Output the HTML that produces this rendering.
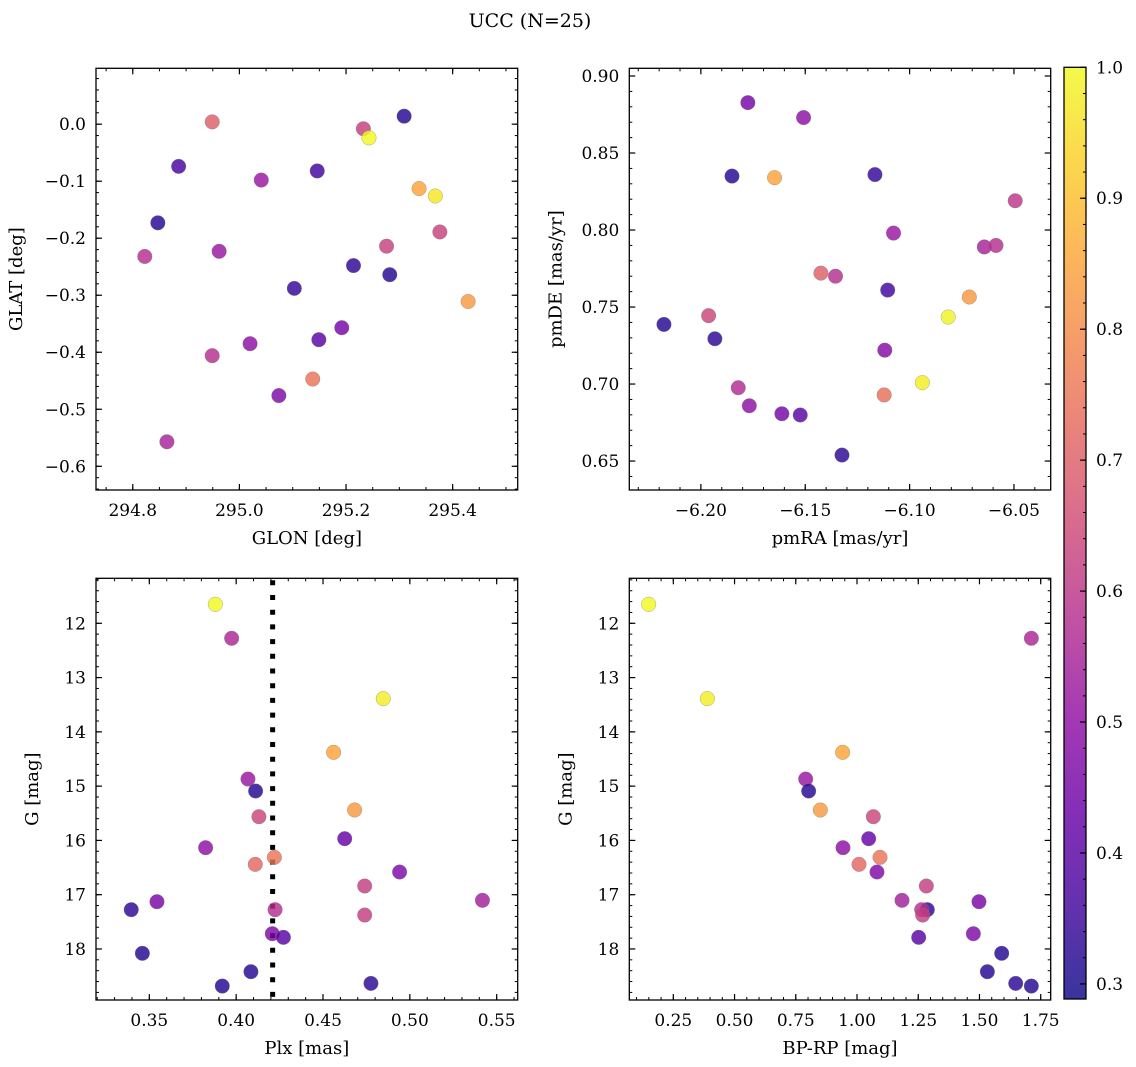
<!DOCTYPE html>
<html><head><meta charset="utf-8"><style>
html,body{margin:0;padding:0;background:#fff;}
svg{display:block;font-family:"DejaVu Serif","Liberation Serif",serif;}
</style></head><body>
<svg id="fig" width="1136" height="1067" viewBox="0 0 1136 1067" xmlns="http://www.w3.org/2000/svg">
<text x="530" y="27" font-size="19" text-anchor="middle">UCC (N=25)</text>
</svg>
<script>
// ---- data ----
const glon = [294.949,295.2325,295.243,295.309,294.886,295.041,295.146,295.337,295.3675,294.847,295.376,294.8225,294.962,295.276,295.214,295.282,295.103,295.429,295.192,295.02,295.149,294.949,295.1375,295.074,294.864];
const glat = [0.004,-0.008,-0.024,0.014,-0.074,-0.098,-0.082,-0.113,-0.126,-0.173,-0.189,-0.232,-0.223,-0.214,-0.248,-0.264,-0.288,-0.311,-0.357,-0.385,-0.378,-0.406,-0.447,-0.476,-0.557];
const probSky = [0.70,0.62,1.0,0.32,0.37,0.52,0.36,0.85,0.97,0.32,0.63,0.58,0.52,0.63,0.33,0.32,0.34,0.83,0.45,0.50,0.40,0.58,0.75,0.47,0.55];
const pmra = [-6.1775,-6.1508,-6.1851,-6.1647,-6.1166,-6.0494,-6.1077,-6.0642,-6.0586,-6.1425,-6.1355,-6.1105,-6.0714,-6.0815,-6.2177,-6.1963,-6.1933,-6.1119,-6.0939,-6.1821,-6.1122,-6.1768,-6.1612,-6.1524,-6.1324];
const pmde = [0.8827,0.873,0.835,0.834,0.836,0.819,0.798,0.789,0.790,0.772,0.770,0.761,0.7565,0.7435,0.7387,0.7444,0.7294,0.722,0.7009,0.6976,0.6929,0.6859,0.6807,0.6799,0.6539];
const probPm = [0.45,0.50,0.32,0.85,0.34,0.60,0.52,0.55,0.58,0.70,0.58,0.36,0.83,0.99,0.32,0.64,0.33,0.48,0.98,0.57,0.74,0.50,0.45,0.40,0.33];
const plx = [0.388,0.3974,0.4847,0.4561,0.4068,0.4112,0.4682,0.4131,0.4625,0.3824,0.422,0.411,0.4941,0.474,0.3544,0.5418,0.3396,0.4224,0.474,0.4208,0.4272,0.346,0.4085,0.4776,0.392];
const gmag = [11.65,12.276,13.388,14.377,14.869,15.09,15.44,15.563,15.968,16.134,16.312,16.441,16.582,16.84,17.129,17.104,17.276,17.276,17.375,17.719,17.786,18.08,18.419,18.634,18.683];
const bprp = [0.1493,1.7118,0.3888,0.9414,0.7904,0.8026,0.8502,1.0667,1.0476,0.9428,1.0939,1.0081,1.0816,1.283,1.498,1.1837,1.287,1.264,1.268,1.475,1.2518,1.5907,1.5322,1.6479,1.7118];
const probPhot = [1.0,0.56,0.98,0.85,0.52,0.32,0.83,0.64,0.42,0.50,0.75,0.72,0.47,0.62,0.46,0.54,0.33,0.58,0.62,0.47,0.40,0.32,0.32,0.33,0.32];
const plxMedian = 0.421;
const cbTicks = [0.3,0.4,0.5,0.6,0.7,0.8,0.9,1.0];
const vmin = 0.2885, vmax = 1.0;

const NS = "http://www.w3.org/2000/svg";
const svg = document.getElementById('fig');
function mk(tag, attrs, parent){const e=document.createElementNS(NS,tag);for(const k in attrs)e.setAttribute(k,attrs[k]);(parent||svg).appendChild(e);return e;}

const plasma=[[13,8,135],[65,4,157],[106,0,168],[143,13,164],[177,42,144],[204,71,120],[225,100,98],[242,132,75],[252,166,54],[252,206,37],[240,249,33]];
function cmap(v){let t=(v-vmin)/(vmax-vmin);t=Math.max(0,Math.min(1,t));const f=t*10;const i=Math.min(9,Math.floor(f));const r=f-i;const a=plasma[i],b=plasma[i+1];
 return 'rgb('+[0,1,2].map(k=>Math.round(a[k]+(b[k]-a[k])*r)).join(',')+')';}
function fmt(v,d){const s=Math.abs(v).toFixed(d);return (v<-1e-9?'\u2212':'')+s;}

function panel(p){
  const g=mk('g',{});
  
  
  const sx=v=>p.x0+(v-p.xd[0])/(p.xd[1]-p.xd[0])*(p.x1-p.x0);
  const sy=p.yinv? v=>p.y0+(v-p.yd[0])/(p.yd[1]-p.yd[0])*(p.y1-p.y0) : v=>p.y1-(v-p.yd[0])/(p.yd[1]-p.yd[0])*(p.y1-p.y0);
  function ticks(lo,hi,step){const out=[];const s=Math.ceil(lo/step-1e-6);for(let k=s;k*step<=hi+1e-9;k++)out.push(+(k*step).toFixed(6));return out;}
  const xlo=Math.min(...p.xd),xhi=Math.max(...p.xd),ylo=Math.min(...p.yd),yhi=Math.max(...p.yd);
  ticks(xlo,xhi,p.xminor).forEach(v=>{const x=sx(v);mk('line',{x1:x,x2:x,y1:p.y1,y2:p.y1-3,stroke:'#000','stroke-width':1},g);mk('line',{x1:x,x2:x,y1:p.y0,y2:p.y0+3,stroke:'#000','stroke-width':1},g);});
  ticks(ylo,yhi,p.yminor).forEach(v=>{const y=sy(v);mk('line',{x1:p.x0,x2:p.x0+3,y1:y,y2:y,stroke:'#000','stroke-width':1},g);mk('line',{x1:p.x1,x2:p.x1-3,y1:y,y2:y,stroke:'#000','stroke-width':1},g);});
  ticks(xlo,xhi,p.xmajor).forEach(v=>{const x=sx(v);mk('line',{x1:x,x2:x,y1:p.y1,y2:p.y1-6,stroke:'#000','stroke-width':1.2},g);mk('line',{x1:x,x2:x,y1:p.y0,y2:p.y0+6,stroke:'#000','stroke-width':1.2},g);
    const t=mk('text',{x:x,y:p.y1+26,'font-size':17,'text-anchor':'middle'},g);t.textContent=fmt(v,p.xdec);
    
    });
  ticks(ylo,yhi,p.ymajor).forEach(v=>{const y=sy(v);mk('line',{x1:p.x0,x2:p.x0+6,y1:y,y2:y,stroke:'#000','stroke-width':1.2},g);mk('line',{x1:p.x1,x2:p.x1-6,y1:y,y2:y,stroke:'#000','stroke-width':1.2},g);
    const t=mk('text',{x:p.x0-10,y:y+6,'font-size':17,'text-anchor':'end'},g);t.textContent=fmt(v,p.ydec);
    
    });
  if(p.vline!==undefined){const x=sx(p.vline);const l=mk('line',{x1:x,x2:x,y1:p.y0+2,y2:p.y1,stroke:'#000','stroke-width':5,'stroke-dasharray':'5,9.7'},g);
    
    }
  for(let i=0;i<p.xs.length;i++){
    const c=mk('circle',{cx:sx(p.xs[i]),cy:sy(p.ys[i]),r:7.3,fill:cmap(p.cs[i]),'fill-opacity':0.82,stroke:'#777','stroke-opacity':0.6,'stroke-width':0.5},g);
    
    
  }
  const fr=mk('rect',{x:p.x0,y:p.y0,width:p.x1-p.x0,height:p.y1-p.y0,fill:'none',stroke:'#000','stroke-width':1.3},g);
  
  
  const xl=mk('text',{x:(p.x0+p.x1)/2,y:p.y1+54,'font-size':18,'text-anchor':'middle'},g);xl.textContent=p.xlabel;
  
  
  const yx=p.x0-p.ylabOff, yy=(p.y0+p.y1)/2;
  const yl=mk('text',{x:yx,y:yy,'font-size':18,'text-anchor':'middle',transform:'rotate(-90 '+yx+' '+yy+')'},g);yl.textContent=p.ylabel;
  
  
}

panel({name:'sky-position-panel',x0:96,x1:517.7,y0:68.3,y1:490,xd:[294.731,295.522],yd:[-0.6416,0.098],xmajor:0.2,xminor:0.05,ymajor:0.1,yminor:0.02,xdec:1,ydec:1,xs:glon,ys:glat,cs:probSky,xlabel:'GLON [deg]',ylabel:'GLAT [deg]',ylabOff:74});
panel({name:'proper-motion-panel',x0:629.3,x1:1050.7,y0:68.3,y1:490,xd:[-6.2343,-6.0324],yd:[0.6312,0.905],xmajor:0.05,xminor:0.01,ymajor:0.05,yminor:0.01,xdec:2,ydec:2,xs:pmra,ys:pmde,cs:probPm,xlabel:'pmRA [mas/yr]',ylabel:'pmDE [mas/yr]',ylabOff:68});
panel({name:'parallax-mag-panel',x0:96,x1:517.7,y0:578.3,y1:1000,xd:[0.3193,0.5621],yd:[11.171,18.94],yinv:true,xmajor:0.05,xminor:0.01,ymajor:1,yminor:0.2,xdec:2,ydec:0,xs:plx,ys:gmag,cs:probPhot,vline:plxMedian,xlabel:'Plx [mas]',ylabel:'G [mag]',ylabOff:58});
panel({name:'cmd-panel',x0:629.3,x1:1050.7,y0:578.3,y1:1000,xd:[0.0703,1.7908],yd:[11.171,18.94],yinv:true,xmajor:0.25,xminor:0.05,ymajor:1,yminor:0.2,xdec:2,ydec:0,xs:bprp,ys:gmag,cs:probPhot,xlabel:'BP-RP [mag]',ylabel:'G [mag]',ylabOff:58});

// colorbar
const cb=mk('g',{});


const cbx0=1064,cbx1=1086,cby0=67.3,cby1=999;
const cy=v=>cby1-(v-vmin)/(vmax-vmin)*(cby1-cby0);
const defs=mk('defs',{},cb);
const lg=mk('linearGradient',{id:'cbg',x1:0,y1:1,x2:0,y2:0},defs);
for(let k=0;k<=20;k++){const v=vmin+(vmax-vmin)*k/20;mk('stop',{offset:(k/20),'stop-color':cmap(v),'stop-opacity':0.82},lg);}
mk('rect',{x:cbx0,y:cby0,width:cbx1-cbx0,height:cby1-cby0,fill:'url(#cbg)'},cb);
for(let v=Math.ceil(vmin/0.02)*0.02;v<=vmax+1e-9;v+=0.02){const y=cy(v);mk('line',{x1:cbx1,x2:cbx1-3,y1:y,y2:y,stroke:'#000','stroke-width':1},cb);}
cbTicks.forEach(v=>{const y=cy(v);mk('line',{x1:cbx1,x2:cbx1-6,y1:y,y2:y,stroke:'#000','stroke-width':1.2},cb);
  const t=mk('text',{x:cbx1+10,y:y+6,'font-size':17},cb);t.textContent=v.toFixed(1);
  
  });
mk('rect',{x:cbx0,y:cby0,width:cbx1-cbx0,height:cby1-cby0,fill:'none',stroke:'#000','stroke-width':1.3},cb);
</script>
</body></html>
